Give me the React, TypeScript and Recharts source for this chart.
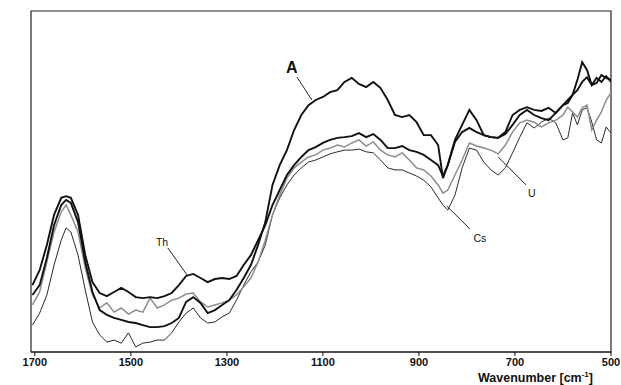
import React from "react";
import { LineChart, Line, XAxis, YAxis, ReferenceArea, ReferenceLine, ReferenceDot } from "recharts";

const wavenumbers = [
  1705, 1690, 1675, 1660, 1645, 1635, 1625, 1610, 1595, 1580,
  1565, 1550, 1535, 1520, 1505, 1490, 1475, 1460, 1445, 1430,
  1415, 1400, 1385, 1370, 1355, 1340, 1325, 1310, 1295, 1280,
  1265, 1250, 1235, 1220, 1205, 1190, 1175, 1160, 1145, 1130,
  1115, 1100, 1085, 1070, 1055, 1040, 1025, 1010, 995, 980,
  965, 950, 935, 920, 905, 890, 875, 860, 850, 840,
  825, 810, 795, 780, 765, 750, 735, 720, 705, 690,
  675, 660, 645, 630, 615, 600, 590, 580, 570, 560,
  550, 540, 530, 520, 510, 500,
];

const seriesA = [
  16.7, 19.6, 27.6, 37.2, 43.1, 44.6, 43.7, 38.1, 26.4, 17.6,
  12.3, 10.9, 10.0, 9.4, 8.8, 8.5, 7.9, 7.3, 7.3, 7.6,
  8.5, 10.0, 14.7, 16.1, 14.4, 11.4, 12.3, 13.8, 15.2, 18.2,
  21.7, 25.5, 31.4, 38.1, 49.0, 54.8, 59.2, 65.1, 69.5, 72.4,
  73.9, 74.8, 76.2, 76.8, 79.2, 80.4, 78.6, 77.7, 79.2, 77.4,
  73.9, 69.5, 68.9, 69.5, 67.4, 63.6, 63.6, 60.7, 51.0, 54.8,
  62.2, 66.6, 71.0, 68.0, 63.6, 63.0, 62.8, 64.5, 69.5, 71.0,
  71.8, 71.0, 70.7, 71.6, 70.1, 72.4, 73.0, 75.4, 79.8, 85.0,
  82.7, 78.3, 80.4, 79.2, 80.9, 79.2,
];

const seriesTh = [
  19.6, 24.0, 31.4, 40.2, 45.2, 45.7, 45.2, 40.2, 28.4, 20.5,
  17.3, 16.4, 17.6, 18.8, 17.6, 16.1, 15.8, 16.1, 15.8, 16.4,
  17.3, 19.6, 22.3, 22.9, 21.7, 20.5, 21.4, 21.7, 21.4, 22.3,
  25.5, 28.4, 32.8, 37.2, 43.1, 47.5, 51.9, 54.8, 57.2, 59.2,
  60.1, 61.3, 62.2, 62.8, 63.0, 63.3, 64.2, 63.0, 63.9, 62.2,
  59.8, 59.8, 60.4, 59.2, 58.7, 57.8, 56.3, 54.8, 51.6, 54.8,
  61.6, 64.5, 65.7, 64.5, 63.6, 63.0, 62.8, 63.9, 66.6, 69.5,
  71.0, 69.5, 68.6, 68.0, 70.1, 72.4, 73.9, 75.4, 76.8, 79.2,
  80.6, 78.3, 78.9, 81.2, 80.4, 79.8,
];

const seriesU = [
  13.8, 17.6, 26.4, 35.2, 41.1, 43.1, 40.2, 35.2, 24.6, 16.7,
  12.9, 14.4, 11.7, 12.9, 11.1, 12.3, 11.7, 15.8, 12.9, 13.8,
  15.2, 15.8, 17.0, 17.3, 14.7, 13.2, 13.8, 14.4, 15.2, 16.7,
  19.1, 21.7, 26.4, 32.8, 40.2, 46.0, 51.0, 54.0, 55.7, 57.2,
  57.8, 59.2, 59.8, 60.7, 60.1, 61.3, 62.2, 60.4, 61.6, 59.2,
  57.8, 57.2, 58.4, 56.3, 54.0, 53.4, 51.6, 49.0, 46.6, 47.5,
  51.9, 56.3, 61.3, 60.4, 59.8, 59.2, 58.1, 60.7, 64.5, 67.2,
  68.0, 67.4, 66.0, 67.2, 68.0, 69.5, 71.8, 70.4, 68.9, 71.6,
  72.4, 65.1, 68.0, 70.4, 73.9, 76.0,
];

const seriesCs = [
  7.9, 11.4, 16.7, 25.5, 32.8, 36.4, 35.2, 28.4, 18.2, 8.8,
  5.0, 2.9, 3.5, 2.6, 5.6, 1.5, 2.6, 2.9, 3.5, 3.5,
  5.6, 8.8, 11.4, 12.9, 10.0, 8.5, 8.8, 10.3, 11.4, 15.2,
  19.6, 23.5, 26.4, 31.4, 40.2, 45.2, 49.0, 51.9, 54.0, 55.7,
  56.3, 57.2, 58.1, 58.7, 59.2, 59.2, 59.5, 58.7, 58.4, 56.3,
  54.0, 53.4, 53.4, 52.5, 51.6, 50.4, 48.4, 45.2, 43.1, 41.6,
  46.0, 54.0, 59.8, 59.2, 55.7, 53.4, 51.9, 54.0, 58.4, 63.0,
  67.2, 65.7, 67.4, 68.6, 67.2, 62.2, 62.8, 70.1, 66.6, 71.0,
  71.6, 67.4, 62.2, 61.3, 66.0, 64.2,
];

const xTicks = [1700, 1500, 1300, 1100, 900, 700, 500];
const xDomain = [500, 1708];
const yDomain = [0, 100];

const annotationNames = ["A", "Th", "Cs", "U"];
const annotationText = [
  { x: 1165, y: 83.6 },
  { x: 1435, y: 32.3 },
  { x: 773, y: 33.4 },
  { x: 665, y: 46.6 },
];
const leaderStart = [
  { x: 1154, y: 80.6 },
  { x: 1423, y: 30.5 },
  { x: 794, y: 36.1 },
  { x: 677, y: 49.0 },
];
const leaderEnd = [
  { x: 1123, y: 73.9 },
  { x: 1383, y: 22.6 },
  { x: 842, y: 42.8 },
  { x: 735, y: 57.2 },
];

const data = wavenumbers.map((wn, i) => ({
  wn,
  A: seriesA[i],
  Th: seriesTh[i],
  U: seriesU[i],
  Cs: seriesCs[i],
}));

const FONT = "'Liberation Sans', Arial, Helvetica, sans-serif";

const XTitle = (props: any) => {
  const vb = props.viewBox || {};
  const right = vb.x + vb.width;
  return (
    <text
      x={right - 18}
      y={vb.y + 30}
      textAnchor="end"
      fontFamily={FONT}
      fontWeight="bold"
      fontSize={12.5}
      fill="#111"
    >
      Wavenumber [cm
      <tspan fontSize={8} dy={-5}>-1</tspan>
      <tspan dy={5}>]</tspan>
    </text>
  );
};

const YTitle = (props: any) => {
  const vb = props.viewBox || {};
  const cy = vb.y + 156;
  return (
    <text
      x={13}
      y={cy}
      transform={`rotate(-90 13 ${cy})`}
      textAnchor="middle"
      dominantBaseline="central"
      fontFamily={FONT}
      fontWeight="bold"
      fontSize={11.5}
      fill="#111"
    >
      PA signal
    </text>
  );
};

export default function App() {
  return (
    <div style={{ position: "absolute", left: 0, top: 0, background: "#fff" }}>
      <LineChart
        width={621}
        height={385}
        data={data}
        margin={{ top: 11, right: 10, bottom: 0, left: 31 }}
      >
        <XAxis
          dataKey="wn"
          type="number"
          domain={xDomain}
          reversed
          ticks={xTicks}
          allowDataOverflow
          height={33}
          tickSize={4}
          tickMargin={2}
          axisLine={{ stroke: "#111", strokeWidth: 1.2 }}
          tickLine={{ stroke: "#111" }}
          tick={{ fontFamily: FONT, fontSize: 11, fontWeight: "bold", fill: "#111" }}
          label={<XTitle />}
        />
        <YAxis
          type="number"
          domain={yDomain}
          width={0}
          tick={false}
          tickLine={false}
          axisLine={false}
          allowDataOverflow
          label={<YTitle />}
        />
        <ReferenceArea
          x1={xDomain[1]}
          x2={xDomain[0]}
          y1={yDomain[0]}
          y2={yDomain[1]}
          fill="none"
          stroke="#222"
          strokeWidth={1.2}
          ifOverflow="visible"
        />
        <Line type="linear" dataKey="Cs" stroke="#2a2a2a" strokeWidth={1} dot={false} isAnimationActive={false} />
        <Line type="linear" dataKey="U" stroke="#8c8c8c" strokeWidth={1.5} dot={false} isAnimationActive={false} />
        <Line type="linear" dataKey="Th" stroke="#111" strokeWidth={1.9} dot={false} isAnimationActive={false} />
        <Line type="linear" dataKey="A" stroke="#111" strokeWidth={1.9} dot={false} isAnimationActive={false} />
        {annotationNames.map((name, i) => (
          <ReferenceLine
            key={"l" + name}
            segment={[leaderStart[i], leaderEnd[i]]}
            stroke="#222"
            strokeWidth={1}
            ifOverflow="visible"
          />
        ))}
        {annotationNames.map((name, i) => (
          <ReferenceDot
            key={"t" + name}
            x={annotationText[i].x}
            y={annotationText[i].y}
            r={0}
            fill="none"
            stroke="none"
            ifOverflow="visible"
            label={{
              value: name,
              position: "center",
              fontFamily: FONT,
              fontSize: name === "A" ? 16 : 10.5,
              fontWeight: name === "A" ? "bold" : "normal",
              fill: "#111",
            }}
          />
        ))}
      </LineChart>
    </div>
  );
}
